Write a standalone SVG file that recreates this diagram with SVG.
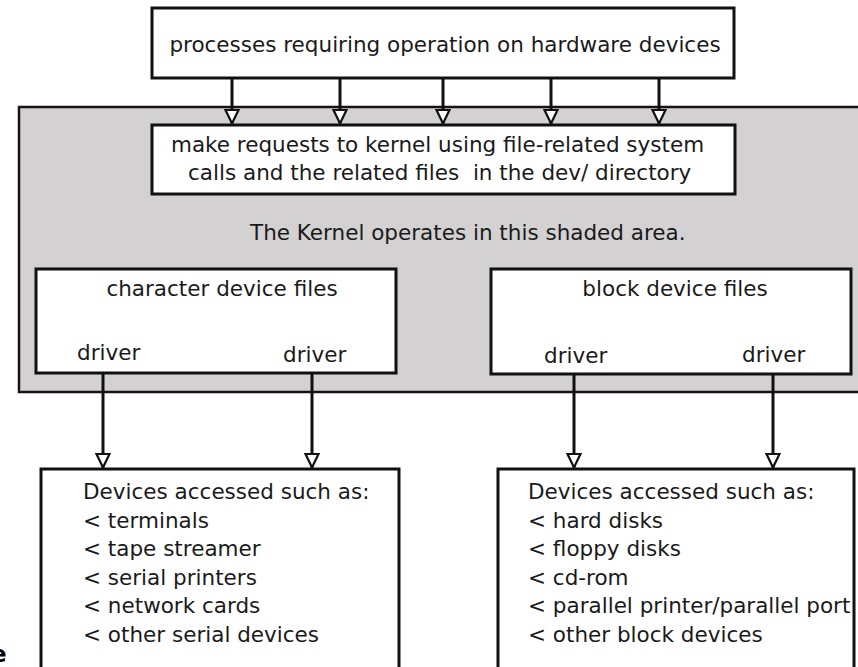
<svg xmlns="http://www.w3.org/2000/svg" width="858" height="667" viewBox="0 0 858 667">
<style>
.t{font-family:"DejaVu Sans","Liberation Sans",sans-serif;font-size:21.5px;fill:#1a1a1a;white-space:pre}
.box{fill:#fff;stroke:#111;stroke-width:3}
.conn{stroke:#111;stroke-width:3;fill:none;marker-end:url(#tri)}
</style>
<defs>
<marker id="tri" markerUnits="userSpaceOnUse" viewBox="0 0 16 16" markerWidth="16" markerHeight="16" refX="15" refY="8" orient="auto">
<path d="M1.5,1.5 L15,8 L1.5,14.5 z" fill="#fff" stroke="#111" stroke-width="2.2" stroke-linejoin="miter"/>
</marker>
</defs>
<rect width="858" height="667" fill="#fff"/>
<g id="kernel-area">
<rect x="19" y="107" width="860" height="285" fill="#d3d1d2" stroke="#1a1212" stroke-width="2.5"/>
<text class="t" x="250" y="240">The Kernel operates in this shaded area.</text>
</g>
<g id="processes">
<rect class="box" x="152" y="8" width="582" height="70"/>
<text class="t" x="445" y="52" text-anchor="middle">processes requiring operation on hardware devices</text>
</g>
<g id="requests">
<rect class="box" x="152" y="125" width="583" height="69"/>
<text class="t" x="171" y="152">make requests to kernel using file-related system</text>
<text class="t" x="188" y="180">calls and the related files  in the dev/ directory</text>
</g>
<g id="char-files">
<rect class="box" x="36" y="269" width="360" height="104"/>
<text class="t" x="222" y="296" text-anchor="middle">character device files</text>
<text class="t" x="77" y="360">driver</text>
<text class="t" x="283" y="362">driver</text>
</g>
<g id="block-files">
<rect class="box" x="491" y="269" width="360" height="105"/>
<text class="t" x="675" y="296" text-anchor="middle">block device files</text>
<text class="t" x="544" y="363">driver</text>
<text class="t" x="742" y="362">driver</text>
</g>
<g id="char-devices">
<rect class="box" x="41" y="469" width="358" height="210"/>
<text class="t" x="83" y="499">Devices accessed such as:</text>
<text class="t" x="83" y="527.5">&lt; terminals</text>
<text class="t" x="83" y="556">&lt; tape streamer</text>
<text class="t" x="83" y="584.5">&lt; serial printers</text>
<text class="t" x="83" y="613">&lt; network cards</text>
<text class="t" x="83" y="641.5">&lt; other serial devices</text>
</g>
<g id="block-devices">
<rect class="box" x="498" y="469" width="356" height="210"/>
<text class="t" x="528" y="499">Devices accessed such as:</text>
<text class="t" x="528" y="527.5">&lt; hard disks</text>
<text class="t" x="528" y="556">&lt; floppy disks</text>
<text class="t" x="528" y="584.5">&lt; cd-rom</text>
<text class="t" x="528" y="613">&lt; parallel printer/parallel port</text>
<text class="t" x="528" y="641.5">&lt; other block devices</text>
</g>
<g id="fragment">
<text x="-9" y="662" style="font-family:'DejaVu Sans','Liberation Sans',sans-serif;font-size:23px;font-weight:bold;fill:#000">e</text>
</g>
<g id="connectors">
<line class="conn" x1="232" y1="78" x2="232" y2="123.5"/>
<line class="conn" x1="340" y1="78" x2="340" y2="123.5"/>
<line class="conn" x1="443" y1="78" x2="443" y2="123.5"/>
<line class="conn" x1="551" y1="78" x2="551" y2="123.5"/>
<line class="conn" x1="659" y1="78" x2="659" y2="123.5"/>
<line class="conn" x1="103" y1="373" x2="103" y2="467.5"/>
<line class="conn" x1="312" y1="373" x2="312" y2="467.5"/>
<line class="conn" x1="574" y1="374" x2="574" y2="467.5"/>
<line class="conn" x1="773" y1="374" x2="773" y2="467.5"/>
</g>
</svg>
